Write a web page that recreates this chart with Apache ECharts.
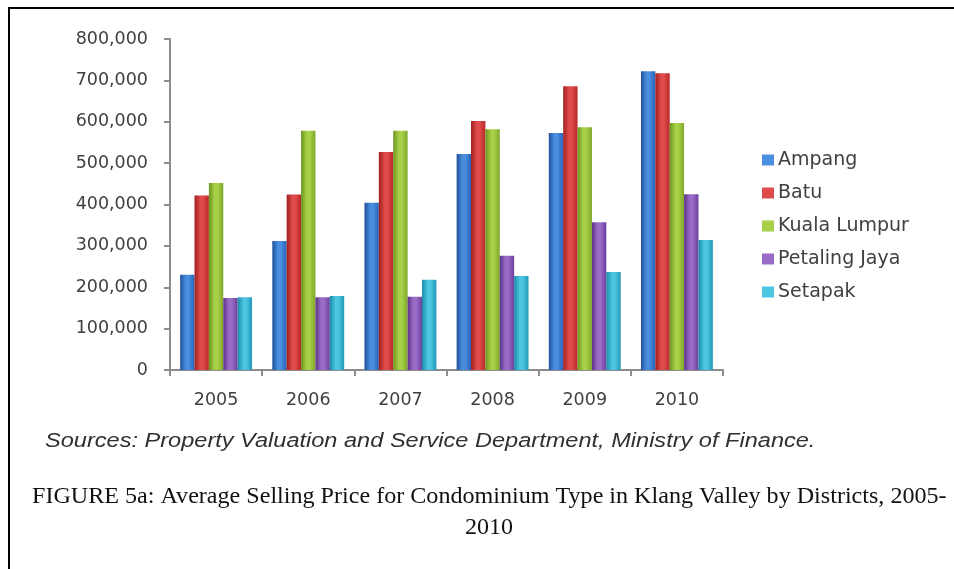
<!DOCTYPE html>
<html>
<head>
<meta charset="utf-8">
<script src="https://cdn.jsdelivr.net/npm/echarts@6/dist/echarts.min.js"></script>
<style>
html,body{margin:0;padding:0;background:#fff;}
#chart{width:954px;height:569px;}
</style>
</head>
<body>
<div id="chart"></div>
<script>
const categories = ['2005','2006','2007','2008','2009','2010'];
const ampang = [230000, 312000, 404000, 522000, 573000, 722000];
const batu = [422000, 424000, 527000, 602000, 686000, 717000];
const kualaLumpur = [452000, 578000, 578000, 582000, 587000, 597000];
const petalingJaya = [174000, 176000, 177000, 276000, 357000, 425000];
const setapak = [176000, 179000, 218000, 227000, 237000, 314000];
const seriesNames = ['Ampang','Batu','Kuala Lumpur','Petaling Jaya','Setapak'];
const sourceText = 'Sources: Property Valuation and Service Department, Ministry of Finance.';
const captionLine1 = 'FIGURE 5a: Average Selling Price for Condominium Type in Klang Valley by Districts, 2005-';
const captionLine2 = '2010';

const palette = [
  ['#1f4f9a','#4a8ee0','#2a62b8'],
  ['#9e1e1e','#e04a4a','#b82828'],
  ['#6b9420','#a8d048','#7fa82a'],
  ['#5a3385','#9a6cc8','#6c3f9c'],
  ['#1a8aa8','#4cc6e0','#2298b8']
];
function grad(c){
  return new echarts.graphic.LinearGradient(0,0,1,0,[
    {offset:0,color:c[0]},{offset:0.4,color:c[1]},{offset:0.6,color:c[1]},{offset:1,color:c[2]}
  ]);
}
const dataSets = [ampang, batu, kualaLumpur, petalingJaya, setapak];

const chart = echarts.init(document.getElementById('chart'), null, {renderer:'canvas'});
chart.setOption({
  backgroundColor:'#ffffff',
  animation:false,
  grid:{left:170, right:231, top:39, bottom:199, containLabel:false},
  legend:{
    orient:'vertical', left:757, top:145,
    itemWidth:12, itemHeight:11, itemGap:13,
    icon:'rect',
    textStyle:{fontFamily:'DejaVu Sans', fontSize:19, lineHeight:20, color:'#404040', padding:[0,0,0,-1]},
    data:seriesNames.map((n,i)=>({name:n, itemStyle:{color:palette[i][1]}}))
  },
  xAxis:{
    type:'category', data:categories,
    axisLine:{lineStyle:{color:'#8c8c8c', width:2}},
    axisTick:{show:true, length:6, lineStyle:{color:'#8c8c8c', width:2}},
    axisLabel:{fontFamily:'DejaVu Sans', fontSize:17.5, color:'#404040', margin:21}
  },
  yAxis:{
    type:'value', min:0, max:800000, interval:100000,
    splitLine:{show:false},
    axisLine:{show:true, lineStyle:{color:'#8c8c8c', width:2}},
    axisTick:{show:true, length:6, lineStyle:{color:'#8c8c8c', width:2}},
    axisLabel:{fontFamily:'DejaVu Sans', fontSize:17.5, color:'#404040', margin:22,
      formatter:v=>v.toLocaleString('en-US')}
  },
  series: seriesNames.map((n,i)=>({
    name:n, type:'bar', data:dataSets[i],
    barGap:'0%', barCategoryGap:'22%',
    itemStyle:{color:grad(palette[i])}
  })),
  graphic:[
    {type:'line', shape:{x1:9,y1:7,x2:9,y2:569}, style:{stroke:'#000', lineWidth:2}},
    {type:'line', shape:{x1:8,y1:8,x2:954,y2:8}, style:{stroke:'#000', lineWidth:2}},
    {type:'text', x:45, y:441, scaleX:1.178,
      style:{text:sourceText, font:'italic 20px "Liberation Sans", Arial, sans-serif', fill:'#303030', textAlign:'left', textVerticalAlign:'middle'}},
    {type:'text', x:32, y:497,
      style:{text:captionLine1, font:'24.1px "Liberation Serif", "Times New Roman", serif', fill:'#111', textAlign:'left', textVerticalAlign:'middle'}},
    {type:'text', x:489, y:528,
      style:{text:captionLine2, font:'24.1px "Liberation Serif", "Times New Roman", serif', fill:'#111', textAlign:'center', textVerticalAlign:'middle'}}
  ]
});
</script>
</body>
</html>
